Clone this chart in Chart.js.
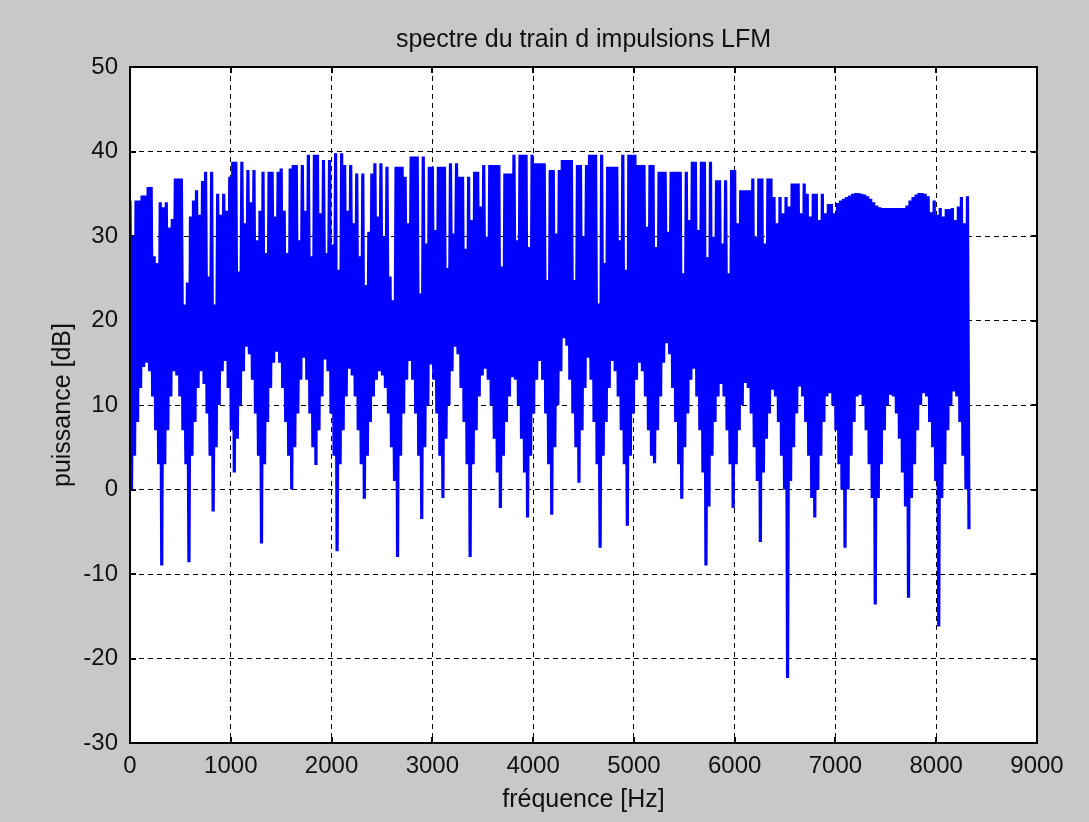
<!DOCTYPE html>
<html>
<head>
<meta charset="utf-8">
<script src="https://cdn.jsdelivr.net/npm/chart.js@4.4.1/dist/chart.umd.min.js"></script>
<style>
html,body{margin:0;padding:0;background:#c8c8c8;overflow:hidden}
canvas{display:block}
</style>
</head>
<body>
<canvas id="c" width="1089" height="822"></canvas>
<script>
// ---- text ----
const chartTitle = 'spectre du train d impulsions LFM';
const xAxisLabel = 'fréquence [Hz]';
const yAxisLabel = 'puissance [dB]';

// ---- tick labels ----
const xTicks = [0, 1000, 2000, 3000, 4000, 5000, 6000, 7000, 8000, 9000];
const yTicks = [-30, -20, -10, 0, 10, 20, 30, 40, 50];

// ---- spectrum samples ----
const freqStartHz = 0;
const freqStepHz = 30;
// upper swing of the trace at each sample (dB)
const peakDb = [
34.2,30.0,34.2,34.2,34.8,34.8,35.8,35.8,27.6,26.8,
34.0,33.4,34.0,31.0,32.0,36.8,36.8,36.8,21.9,24.5,
32.3,34.2,35.4,32.5,36.5,37.6,25.2,37.6,21.9,35.0,
32.5,35.0,33.0,37.0,38.8,38.8,25.8,38.8,31.5,37.8,
34.0,37.8,29.5,33.0,37.6,28.0,37.6,37.6,32.3,37.6,
38.0,33.0,28.0,38.0,38.4,38.4,29.5,38.4,33.0,39.6,
27.6,39.6,39.6,32.7,39.0,28.0,39.0,29.0,39.8,26.0,
39.8,38.4,33.0,38.4,31.5,37.4,27.6,37.4,24.2,30.5,
37.4,38.6,32.3,38.6,30.0,38.2,25.2,22.4,38.2,38.2,
38.2,37.0,31.5,39.4,39.4,39.4,23.2,39.4,29.1,38.2,
38.2,30.7,38.2,38.2,38.2,26.2,38.6,30.3,38.6,37.0,
37.0,28.5,37.0,31.9,37.6,37.6,33.5,38.4,29.9,38.4,
38.4,38.4,38.4,26.4,37.4,37.4,37.4,39.6,29.5,39.6,
39.6,39.6,28.7,39.6,38.6,38.6,38.6,38.6,24.8,37.8,
37.8,30.3,37.8,39.0,39.0,39.0,39.0,24.8,38.4,38.4,
29.9,38.4,39.6,39.6,39.6,22.0,39.6,26.8,38.2,38.2,
38.2,38.2,29.5,39.6,26.0,39.6,39.6,39.6,38.4,38.4,
38.4,31.1,38.4,38.4,28.7,37.6,37.6,37.6,30.5,37.6,
37.6,37.6,37.6,25.6,37.6,31.9,38.8,38.8,30.7,38.8,
38.8,27.5,38.8,29.9,36.6,36.6,29.1,36.6,25.6,37.8,
37.8,31.5,35.4,35.4,35.4,35.4,36.8,29.9,36.8,36.8,
29.1,36.8,36.8,34.6,31.5,34.6,32.7,34.6,33.5,36.2,
36.2,36.2,32.7,36.2,35.0,32.3,35.0,35.0,31.9,35.0,
32.7,33.8,33.8,32.7,33.9,34.2,34.4,34.6,34.8,35.0,
35.1,35.1,35.0,34.9,34.7,34.4,34.0,33.6,33.4,33.3,
33.3,33.3,33.3,33.3,33.3,33.3,33.3,33.6,34.2,34.6,
34.9,35.1,35.1,35.0,34.7,32.8,34.2,32.5,33.3,32.3,
33.2,33.2,33.3,31.9,33.5,34.6,31.5,34.7
];
// lower swing of the trace at each sample (dB)
const troughDb = [
0,4,8,12,14.5,15,14,11,7,3,
-9,3,7,11,14,13.5,11,7,3,-8.6,
4,8,12,14,12.5,9,4,-2.6,5,10,
14,15.2,12,7,2,6,10,14,16.9,16,
13,9,4,-6.4,3,8,12,15,16.3,15,
12,8,4,0,5,9,13,15.6,13,9,
5,2.9,7,11,15.4,14,9,4,-7.3,3,
7,11,14.3,13.5,11,7,3,-1.1,4,8,
11,13,14,13.5,12,9,5,1,-8,4,
9,13,15.2,13,9,4,-3.5,5,10,14.8,
13,9,4,-1,6,10,14,16.9,16,12,
8,3,-8,3,7,11,13.5,14.3,13,10,
6,2,-2.2,4,8,11,13.3,13,10,6,
2,-3.3,4,9,13,15.2,13,9,3,-3,
5,10,14,17.9,17,13,9,5,0.8,7,
12,15.6,13,8,3,-6.9,4,8,12,15.2,
14,11,7,3,-4.3,4,9,13,15,14,
11,7,4,3.1,7,11,15,17.3,16,12,
8,3,-1.1,5,9,13,14.3,11,7,2,
-9,-2,4,8,11,12.5,11,7,3,-2.2,
3,7,10,12.6,12,9,5,1,-6.2,2,
6,9,11.8,11,8,4,0,-22.3,1,5,
9,12.2,11,8,4,-1,-3.3,0,4,8,
11,11.4,10,7,3,0,-6.9,0,4,8,
11,11.2,10,7,3,-1,-13.6,-1,3,7,
10,11.2,11,9,6,2,-2,-12.8,-1,3,
7,10,11.4,11,8,5,1,-16.2,-1,3,
7,10,11.6,11,8,4,0,-4.7
];

// ---- build the trace (alternating upper / lower swing) ----
const trace = [];
for (let i = 0; i < peakDb.length; i++) {
  const f = freqStartHz + i * freqStepHz;
  trace.push({ x: f, y: peakDb[i] });
  trace.push({ x: f + freqStepHz / 2, y: troughDb[i] });
}

const FONT = '"Liberation Sans", Arial, Helvetica, sans-serif';
const TEXT = '#111111';

const backgroundPlugin = {
  id: 'bg',
  beforeDraw(chart) {
    const { ctx, chartArea: a, width, height } = chart;
    ctx.save();
    ctx.fillStyle = '#c8c8c8';
    ctx.fillRect(0, 0, width, height);
    ctx.fillStyle = '#ffffff';
    ctx.fillRect(a.left, a.top, a.right - a.left, a.bottom - a.top);
    ctx.restore();
  }
};

const framePlugin = {
  id: 'frame',
  beforeDatasetsDraw(chart) {
    const { ctx, chartArea: a, scales: { x, y } } = chart;
    ctx.save();
    ctx.strokeStyle = '#000';
    ctx.lineWidth = 2;
    ctx.beginPath();
    const L = 6;
    xTicks.forEach(v => {
      const px = Math.round(x.getPixelForValue(v));
      ctx.moveTo(px, a.bottom); ctx.lineTo(px, a.bottom - L);
      ctx.moveTo(px, a.top); ctx.lineTo(px, a.top + L);
    });
    yTicks.forEach(v => {
      const py = Math.round(y.getPixelForValue(v));
      ctx.moveTo(a.left, py); ctx.lineTo(a.left + L, py);
      ctx.moveTo(a.right, py); ctx.lineTo(a.right - L, py);
    });
    ctx.stroke();
    ctx.restore();
  },
  afterDatasetsDraw(chart) {
    const { ctx, chartArea: a } = chart;
    ctx.save();
    ctx.strokeStyle = '#000';
    ctx.lineWidth = 2;
    ctx.strokeRect(Math.round(a.left), Math.round(a.top),
      Math.round(a.right) - Math.round(a.left), Math.round(a.bottom) - Math.round(a.top));
    ctx.restore();
  }
};

new Chart(document.getElementById('c'), {
  type: 'line',
  data: {
    datasets: [{
      data: trace,
      borderColor: '#0000ff',
      borderWidth: 3.2,
      borderJoinStyle: 'bevel',
      pointRadius: 0,
      tension: 0,
      fill: false
    }]
  },
  options: {
    responsive: false,
    animation: false,
    devicePixelRatio: 1,
    events: [],
    layout: { padding: { left: 0, right: 52, top: 0, bottom: 0 } },
    plugins: {
      legend: { display: false },
      tooltip: { enabled: false },
      title: {
        display: true,
        fullSize: false,
        text: chartTitle,
        color: TEXT,
        font: { family: FONT, size: 25, weight: 'normal' },
        padding: { top: 25, bottom: 12 }
      }
    },
    scales: {
      x: {
        type: 'linear',
        min: 0,
        max: 9000,
        afterBuildTicks: s => { s.ticks = xTicks.map(v => ({ value: v })); },
        afterFit: s => { s.height = 79; },
        grid: { color: '#000', lineWidth: 1, drawTicks: false },
        border: { display: false, dash: [5, 4] },
        ticks: {
          color: TEXT, padding: 9, maxRotation: 0, autoSkip: false,
          font: { family: FONT, size: 24 },
          callback: v => String(v)
        },
        title: {
          display: true, text: xAxisLabel, color: TEXT,
          font: { family: FONT, size: 25 },
          padding: { top: 0, bottom: 7 }
        }
      },
      y: {
        type: 'linear',
        min: -30,
        max: 50,
        afterBuildTicks: s => { s.ticks = yTicks.map(v => ({ value: v })); },
        afterFit: s => { s.width = 130; },
        grid: { color: '#000', lineWidth: 1, drawTicks: false },
        border: { display: false, dash: [5, 4] },
        ticks: {
          color: TEXT, padding: 12, autoSkip: false,
          font: { family: FONT, size: 24 },
          callback: v => String(v)
        },
        title: {
          display: true, text: yAxisLabel, color: TEXT,
          font: { family: FONT, size: 25 },
          padding: { top: 48, bottom: 0 }
        }
      }
    }
  },
  plugins: [backgroundPlugin, framePlugin]
});
</script>
</body>
</html>
